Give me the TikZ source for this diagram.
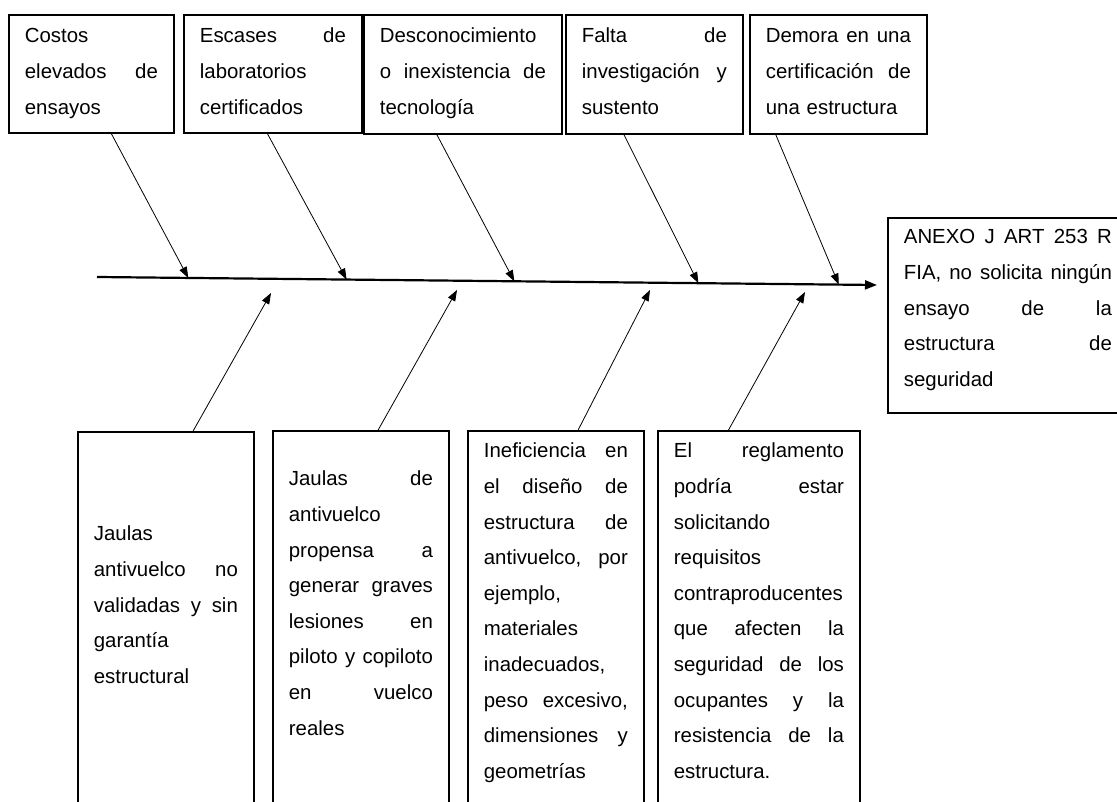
\documentclass[tikz,border=0pt]{standalone}
\usepackage{fontspec}
\setmainfont{Liberation Sans}
\usetikzlibrary{arrows.meta,calc}
\begin{document}
\begin{tikzpicture}[x=1pt,y=-1pt,
  tbox/.style={draw=black,line width=1.8pt,anchor=north west,inner xsep=16pt,inner ysep=0pt,align=left,font=\fontsize{20.4}{35.6}\selectfont},
  bone/.style={line width=0.8pt,-{Triangle[length=11pt,width=8pt]}},
  spine/.style={line width=2.2pt,-{Triangle[length=12pt,width=9pt]}}]
 \useasboundingbox (0,0) rectangle (1117,802);
 \node (top 1) at (8,14) [tbox,text width=133pt,text height=28pt,text depth=90pt] {Costos\\elevados\hfill de\\ensayos};
 \node (top 2) at (183,14) [tbox,text width=146pt,text height=28pt,text depth=90pt] {Escases\hfill de\\laboratorios\\certificados};
 \node (top 3) at (363,14) [tbox,text width=166pt,text height=28pt,text depth=91pt] {Desconocimiento\\o\hfill inexistencia\hfill de\\tecnología};
 \node (top 4) at (565,14) [tbox,text width=145pt,text height=28pt,text depth=91pt] {Falta\hfill de\\investigación\hfill y\\sustento};
 \node (top 5) at (749,14) [tbox,text width=145pt,text height=28pt,text depth=91pt] {Demora\hfill en\hfill una\\certificación\hfill de\\una estructura};
 \node (head) at (887,217) [tbox,text width=208pt,text height=26pt,text depth=169pt] {ANEXO\hfill J\hfill ART\hfill 253\hfill R\\FIA,\hfill no\hfill solicita\hfill ningún\\ensayo\hfill de\hfill la\\estructura\hfill de\\seguridad};
 \node (low 1) at (77,431) [tbox,text width=144pt,text height=109pt,text depth=290pt] {Jaulas\\antivuelco\hfill no\\validadas\hfill y\hfill sin\\garantía\\estructural};
 \node (low 2) at (272,430) [tbox,text width=144pt,text height=55pt,text depth=345pt] {Jaulas\hfill de\\antivuelco\\propensa\hfill a\\generar\hfill graves\\lesiones\hfill en\\piloto\hfill y\hfill copiloto\\en\hfill vuelco\\reales};
 \node (low 3) at (467,430) [tbox,text width=144pt,text height=27pt,text depth=373pt] {Ineficiencia\hfill en\\el\hfill diseño\hfill de\\estructura\hfill de\\antivuelco,\hfill por\\ejemplo,\\materiales\\inadecuados,\\peso\hfill excesivo,\\dimensiones\hfill y\\geometrías};
 \node (low 4) at (657,430) [tbox,text width=170pt,text height=27pt,text depth=373pt] {El\hfill reglamento\\podría\hfill estar\\solicitando\\requisitos\\contraproducentes\\que\hfill afecten\hfill la\\seguridad\hfill de\hfill los\\ocupantes\hfill y\hfill la\\resistencia\hfill de\hfill la\\estructura.};
 \coordinate (spine start) at (97,277);
 \coordinate (spine end) at (877,285);
 \coordinate (tip 1) at (271,293);
 \coordinate (tip 2) at (457,290);
 \coordinate (tip 3) at (650,290);
 \coordinate (tip 4) at (805,292);
 \draw[spine] (spine start) -- (spine end);
 \draw[bone] ($(top 1.south west)!0.62!(top 1.south east)$) -- ($(spine start)!0.117!(spine end)$);
 \draw[bone] ($(top 2.south west)!0.47!(top 2.south east)$) -- ($(spine start)!0.320!(spine end)$);
 \draw[bone] ($(top 3.south west)!0.37!(top 3.south east)$) -- ($(spine start)!0.535!(spine end)$);
 \draw[bone] ($(top 4.south west)!0.33!(top 4.south east)$) -- ($(spine start)!0.771!(spine end)$);
 \draw[bone] ($(top 5.south west)!0.15!(top 5.south east)$) -- ($(spine start)!0.951!(spine end)$);
 \draw[bone] ($(low 1.north west)!0.653!(low 1.north east)$) -- (tip 1);
 \draw[bone] ($(low 2.north west)!0.597!(low 2.north east)$) -- (tip 2);
 \draw[bone] ($(low 3.north west)!0.625!(low 3.north east)$) -- (tip 3);
 \draw[bone] ($(low 4.north west)!0.351!(low 4.north east)$) -- (tip 4);
\end{tikzpicture}
\end{document}
